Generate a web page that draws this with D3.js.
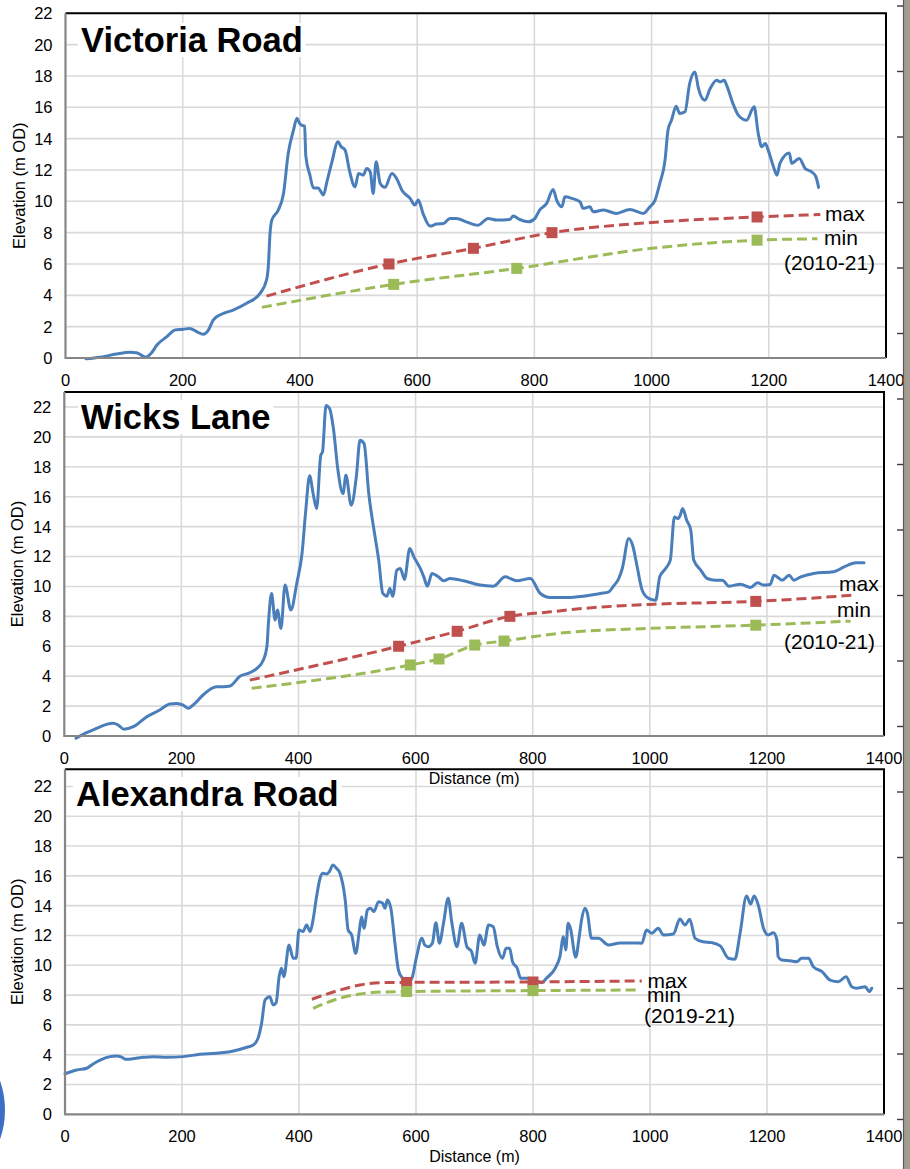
<!DOCTYPE html>
<html>
<head>
<meta charset="utf-8">
<script src="https://cdn.jsdelivr.net/npm/d3@7"></script>
<style>
  html, body { margin: 0; padding: 0; background: #fff; }
  svg { display: block; }
  text { font-family: "Liberation Sans", Arial, sans-serif; fill: #000; }
</style>
</head>
<body>
<svg id="chart" width="910" height="1169"></svg>
<script>
// ---- Axis ticks ----
const xTicks = [0, 200, 400, 600, 800, 1000, 1200, 1400];
const yTicks = [0, 2, 4, 6, 8, 10, 12, 14, 16, 18, 20, 22];

// ---- Victoria Road: ground profile [distance m, elevation m OD] ----
const victoriaProfile = [
  [35,-0.05],[59,0.05],[87,0.25],[110,0.36],[121,0.33],[132,0.13],[136,0.05],[147,0.34],[156,0.83],
  [173,1.36],[187,1.79],[201,1.83],[212,1.89],[224,1.68],[235,1.51],[244,1.79],[252,2.42],[267,2.81],
  [286,3.06],[309,3.49],[332,4.13],[343,4.97],[346,5.82],[349,7.95],[352,8.8],[363,9.44],[372,10.5],
  [380,13.05],[389,14.54],[395,15.3],[399,15.0],[403,14.86],[408,14.8],[410,12.9],[417,11.67],[423,10.85],
  [431,10.85],[436,10.6],[440,10.4],[446,11.24],[454,12.42],[465,13.8],[470,13.5],[477,13.27],[485,11.88],
  [494,10.92],[500,11.78],[508,11.67],[514,12.1],[520,11.88],[525,10.5],[530,12.52],[537,11.14],[545,10.89],
  [557,11.78],[565,11.46],[574,10.71],[588,10.19],[596,9.76],[602,10.08],[610,9.23],[622,8.42],[633,8.55],
  [645,8.59],[656,8.91],[667,8.91],[684,8.69],[704,8.48],[721,8.91],[736,8.8],[758,8.84],[764,9.06],
  [775,8.84],[790,8.69],[801,8.91],[809,9.44],[821,9.87],[832,10.76],[838,10.08],[847,9.65],[852,10.29],
  [864,10.19],[878,9.97],[883,9.55],[895,9.65],[900,9.33],[918,9.44],[940,9.23],[963,9.48],[986,9.23],
  [997,9.65],[1006,10.08],[1014,11.14],[1023,12.63],[1028,14.54],[1034,15.18],[1042,16.07],[1048,15.6],
  [1057,15.71],[1065,17.52],[1074,18.26],[1080,17.2],[1091,16.45],[1100,17.2],[1111,17.73],[1117,17.62],
  [1124,17.73],[1128,17.41],[1140,16.13],[1148,15.5],[1162,15.18],[1175,16.03],[1182,14.33],[1188,13.48],
  [1194,13.69],[1199,13.27],[1208,12.2],[1214,11.67],[1219,12.42],[1235,13.09],[1239,12.42],[1252,12.74],
  [1262,12.1],[1273,11.88],[1280,11.6],[1285,10.89]
];
// observed water levels 2010-21
const victoriaMaxLine  = [[343,3.95],[552,6.0],[696,7.0],[830,8.0],[1000,8.65],[1180,9.0],[1288,9.16]];
const victoriaMaxMarks = [[552,6.0],[696,7.0],[830,8.0],[1180,9.0]];
const victoriaMinLine  = [[335,3.23],[560,4.7],[770,5.72],[1000,7.0],[1180,7.52],[1283,7.61]];
const victoriaMinMarks = [[560,4.7],[770,5.72],[1180,7.52]];

// ---- Wicks Lane ----
const wicksProfile = [
  [20,-0.15],[38,0.22],[55,0.51],[72,0.78],[84,0.85],[92,0.73],[102,0.45],[118,0.62],[141,1.29],
  [163,1.74],[180,2.14],[192,2.18],[203,2.07],[212,1.85],[220,2.07],[237,2.74],[260,3.29],[272,3.29],
  [283,3.34],[300,4.0],[314,4.19],[329,4.52],[340,5.08],[346,5.97],[349,7.75],[354,9.53],[360,7.75],
  [364,8.42],[370,7.19],[377,10.09],[387,8.42],[397,10.2],[406,12.2],[412,14.9],[419,17.4],[425,16.2],
  [431,15.21],[438,18.77],[441,18.99],[447,22.1],[453,21.89],[460,20.44],[467,17.88],[476,16.21],
  [481,17.43],[490,15.43],[499,17.43],[505,19.77],[512,19.55],[520,16.21],[529,13.76],[537,11.76],
  [544,9.53],[551,9.35],[556,9.87],[561,9.35],[568,11.09],[574,11.2],[581,10.47],[590,12.54],[597,11.98],
  [608,11.2],[614,10.64],[620,10.02],[628,10.87],[639,10.64],[648,10.38],[659,10.53],[682,10.38],
  [710,10.09],[733,10.02],[753,10.64],[773,10.38],[796,10.53],[813,9.53],[830,9.26],[859,9.26],[887,9.35],
  [916,9.53],[930,9.64],[938,10.02],[947,10.53],[953,11.2],[964,13.2],[971,12.7],[978,11.4],[987,9.75],
  [998,9.2],[1010,9.08],[1017,10.64],[1027,11.2],[1035,11.76],[1042,14.65],[1048,14.54],[1052,14.76],
  [1056,15.21],[1063,14.43],[1070,13.76],[1075,11.76],[1087,11.09],[1098,10.53],[1112,10.42],[1124,10.42],
  [1135,10.02],[1155,10.15],[1172,9.93],[1184,10.24],[1195,10.09],[1206,10.15],[1212,10.75],[1226,10.42],
  [1238,10.75],[1246,10.42],[1258,10.64],[1280,10.87],[1314,10.98],[1332,11.31],[1352,11.58],[1366,11.58]
];
const wicksMaxLine  = [[317,3.74],[571,6.0],[671,7.0],[761,8.0],[830,8.3],[887,8.53],[1001,8.8],[1181,9.0],[1349,9.42]];
const wicksMaxMarks = [[571,6.0],[671,7.0],[761,8.0],[1181,9.0]];
const wicksMinLine  = [[320,3.19],[591,4.75],[640,5.15],[701,6.08],[751,6.35],[853,6.9],[996,7.19],[1181,7.41],[1343,7.68]];
const wicksMinMarks = [[591,4.75],[640,5.15],[701,6.08],[751,6.35],[1181,7.41]];

// ---- Alexandra Road ----
const alexandraProfile = [
  [0,2.72],[20,2.97],[37,3.09],[48,3.38],[60,3.64],[77,3.87],[88,3.91],[97,3.83],[104,3.69],[128,3.8],
  [151,3.87],[174,3.83],[202,3.87],[231,4.03],[259,4.09],[288,4.25],[311,4.5],[322,4.65],[330,5.1],
  [336,6.1],[342,7.67],[350,7.89],[356,7.34],[361,7.49],[366,9.23],[370,9.8],[374,9.23],[383,11.36],
  [390,10.47],[395,10.47],[400,12.37],[407,12.26],[413,12.7],[419,12.26],[424,13.04],[430,14.6],
  [436,15.84],[441,16.17],[447,16.13],[452,16.28],[458,16.73],[464,16.51],[470,16.17],[479,14.38],
  [484,12.37],[490,12.03],[497,10.8],[503,12.26],[507,13.26],[511,12.48],[517,13.71],[522,13.83],
  [528,13.6],[536,14.27],[543,14.16],[547,13.83],[551,14.38],[557,13.83],[564,11.48],[570,9.68],
  [577,9.13],[587,8.9],[593,9.13],[601,10.58],[610,11.81],[615,11.36],[621,11.25],[628,11.48],
  [634,12.86],[640,11.48],[647,12.82],[655,14.5],[661,12.93],[670,11.25],[678,12.82],[687,11.25],
  [695,10.91],[701,10.13],[709,12.03],[716,11.36],[724,12.7],[732,12.59],[739,11.25],[748,10.47],
  [754,11.14],[760,11.14],[765,10.24],[773,9.8],[779,9.13],[789,9.13],[800,9.06],[815,8.83],[823,9.13],
  [838,9.8],[846,10.58],[852,11.92],[856,11.03],[860,12.82],[864,12.48],[873,10.54],[879,11.92],
  [883,13.04],[889,13.83],[893,13.49],[900,11.81],[912,11.81],[929,11.36],[949,11.5],[972,11.5],
  [986,11.48],[994,12.37],[1003,12.15],[1014,12.48],[1023,12.03],[1040,12.1],[1051,13.1],[1060,12.7],
  [1068,13.09],[1077,11.81],[1091,11.58],[1105,11.52],[1120,11.3],[1134,10.47],[1145,10.4],[1154,12.15],
  [1165,14.65],[1172,14.11],[1178,14.65],[1185,14.05],[1194,12.48],[1202,12.03],[1211,12.19],[1217,11.7],
  [1219,10.58],[1225,10.36],[1240,10.3],[1251,10.24],[1259,10.47],[1271,10.47],[1279,9.91],[1294,9.57],
  [1308,9.01],[1322,8.9],[1335,9.23],[1345,8.56],[1353,8.46],[1368,8.56],[1375,8.23],[1379,8.46]
];
const alexandraMaxLine  = [[422,7.72],[470,8.34],[504,8.68],[538,8.83],[584,8.85],[800,8.88],[986,8.95]];
const alexandraMaxMarks = [[584,8.85],[800,8.88]];
const alexandraMinLine  = [[424,7.11],[470,7.79],[504,8.07],[538,8.2],[584,8.24],[800,8.3],[983,8.34]];
const alexandraMinMarks = [[584,8.24],[800,8.3]];

const titles  = ["Victoria Road", "Wicks Lane", "Alexandra Road"];
const periods = ["(2010-21)", "(2010-21)", "(2019-21)"];

// ---- Panel layout (pixels) ----
const panels = [
  { title: titles[0], profile: victoriaProfile,
    maxLine: victoriaMaxLine, maxMarks: victoriaMaxMarks, minLine: victoriaMinLine, minMarks: victoriaMinMarks,
    period: periods[0], yMax: 22,
    box: { left: 65.5, right: 886, top: 13.3, bottom: 358 },
    titlePos: [81, 52], yTitleX: 19, xTitle: false,
    labels: { max: [825, 221], min: [824, 244.5], period: [784, 270] } },
  { title: titles[1], profile: wicksProfile,
    maxLine: wicksMaxLine, maxMarks: wicksMaxMarks, minLine: wicksMinLine, minMarks: wicksMinMarks,
    period: periods[1], yMax: 23,
    box: { left: 64.3, right: 884, top: 392, bottom: 736 },
    titlePos: [81, 429], yTitleX: 17.5, xTitle: true,
    labels: { max: [839, 590.5], min: [837, 617], period: [784, 649] } },
  { title: titles[2], profile: alexandraProfile,
    maxLine: alexandraMaxLine, maxMarks: alexandraMaxMarks, minLine: alexandraMinLine, minMarks: alexandraMinMarks,
    period: periods[2], yMax: 23.15,
    box: { left: 65, right: 884, top: 769.3, bottom: 1114.3 },
    titlePos: [76, 806], yTitleX: 17.5, xTitle: true,
    labels: { max: [647.5, 987.5], min: [647, 1001.5], period: [644, 1023] } }
];

const COLORS = { profile: "#4a7ebb", max: "#c0504d", min: "#9bbb59", grid: "#d9d9d9", axis: "#868686" };
const svg = d3.select("#chart");
const xTitleLayer = [];

panels.forEach(p => {
  const b = p.box;
  const x = d3.scaleLinear().domain([0, 1400]).range([b.left, b.right]);
  const y = d3.scaleLinear().domain([0, p.yMax]).range([b.bottom, b.top]);
  const g = svg.append("g");

  // gridlines
  g.append("g").selectAll("line").data(yTicks.filter(t => t > 0)).join("line")
    .attr("x1", b.left).attr("x2", b.right)
    .attr("y1", d => y(d)).attr("y2", d => y(d))
    .attr("stroke", COLORS.grid).attr("stroke-width", 1.6);
  g.append("g").selectAll("line").data(xTicks.filter(t => t > 0 && t < 1400)).join("line")
    .attr("x1", d => x(d)).attr("x2", d => x(d))
    .attr("y1", b.top).attr("y2", b.bottom)
    .attr("stroke", COLORS.grid).attr("stroke-width", 1.6);

  // title with white backing
  const tg = g.append("g");
  const tt = tg.append("text")
    .attr("x", p.titlePos[0]).attr("y", p.titlePos[1])
    .attr("font-size", 34.5).attr("font-weight", "bold").text(p.title);
  const bb = tt.node().getBBox();
  tg.insert("rect", "text")
    .attr("x", bb.x - 3).attr("y", bb.y + 2).attr("width", bb.width + 6).attr("height", bb.height - 4)
    .attr("fill", "#fff");

  const lineGen = d3.line().x(d => x(d[0])).y(d => y(d[1])).curve(d3.curveMonotoneX);

  // ground profile
  g.append("path").datum(p.profile).attr("d", lineGen)
    .attr("fill", "none").attr("stroke", COLORS.profile).attr("stroke-width", 3)
    .attr("stroke-linejoin", "round").attr("stroke-linecap", "round");

  // water level series: dashed smooth line + square markers
  [["max", p.maxLine, p.maxMarks], ["min", p.minLine, p.minMarks]].forEach(([key, pts, marks]) => {
    g.append("path").datum(pts).attr("d", lineGen)
      .attr("fill", "none").attr("stroke", COLORS[key]).attr("stroke-width", 3)
      .attr("stroke-dasharray", "10,5");
    g.append("g").selectAll("rect").data(marks).join("rect")
      .attr("x", d => x(d[0]) - 5.5).attr("y", d => y(d[1]) - 5.5)
      .attr("width", 11).attr("height", 11).attr("fill", COLORS[key]);
  });

  // plot frame: black top/right, grey axes left/bottom
  g.append("line").attr("x1", b.left).attr("x2", b.right + 1).attr("y1", b.top).attr("y2", b.top)
    .attr("stroke", "#000").attr("stroke-width", 2);
  g.append("line").attr("x1", b.right).attr("x2", b.right).attr("y1", b.top).attr("y2", b.bottom)
    .attr("stroke", "#000").attr("stroke-width", 2);
  g.append("line").attr("x1", b.left).attr("x2", b.left).attr("y1", b.top).attr("y2", b.bottom + 1)
    .attr("stroke", COLORS.axis).attr("stroke-width", 2.2);
  g.append("line").attr("x1", b.left).attr("x2", b.right).attr("y1", b.bottom).attr("y2", b.bottom)
    .attr("stroke", COLORS.axis).attr("stroke-width", 2.2);

  // tick labels
  g.append("g").selectAll("text").data(yTicks).join("text")
    .attr("x", b.left - 13).attr("y", d => y(d)).attr("dy", "0.36em")
    .attr("text-anchor", "end").attr("font-size", 16.5).text(d => d);
  g.append("g").selectAll("text").data(xTicks).join("text")
    .attr("x", d => x(d)).attr("y", b.bottom + 27.5)
    .attr("text-anchor", "middle").attr("font-size", 16.5).text(d => d);

  // axis titles
  g.append("text")
    .attr("transform", `translate(${p.yTitleX},${(b.top + b.bottom) / 2}) rotate(-90)`)
    .attr("text-anchor", "middle").attr("dy", "0.35em").attr("font-size", 16.5)
    .text("Elevation (m OD)");
  if (p.xTitle) xTitleLayer.push({ x: (b.left + b.right) / 2, y: b.bottom + 48 });

  // series annotations
  g.append("text").attr("x", p.labels.max[0]).attr("y", p.labels.max[1]).attr("font-size", 21).text("max");
  g.append("text").attr("x", p.labels.min[0]).attr("y", p.labels.min[1]).attr("font-size", 21).text("min");
  g.append("text").attr("x", p.labels.period[0]).attr("y", p.labels.period[1]).attr("font-size", 21).text(p.period);
});

// x-axis titles sit above neighbouring panels
svg.append("g").selectAll("text").data(xTitleLayer).join("text")
  .attr("x", d => d.x).attr("y", d => d.y).attr("text-anchor", "middle")
  .attr("font-size", 16).text("Distance (m)");

// page edge strip on the right with ruler ticks
svg.append("rect").attr("x", 903).attr("y", 0).attr("width", 7).attr("height", 1169).attr("fill", "#a39c91");
svg.append("line").attr("x1", 903.5).attr("x2", 903.5).attr("y1", 0).attr("y2", 1169)
  .attr("stroke", "#5f5a53").attr("stroke-width", 1.2);
svg.append("g").selectAll("line").data(d3.range(18)).join("line")
  .attr("x1", 897).attr("x2", 903).attr("y1", d => 6 + d * 65.5).attr("y2", d => 6 + d * 65.5)
  .attr("stroke", "#3a3a3a").attr("stroke-width", 1.4);

// blue ring at the lower-left page edge
svg.append("circle").attr("cx", -85).attr("cy", 1110).attr("r", 87.5)
  .attr("fill", "none").attr("stroke", "#3e6fc7").attr("stroke-width", 5);
</script>
</body>
</html>
